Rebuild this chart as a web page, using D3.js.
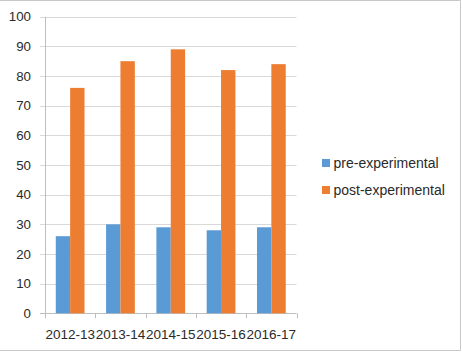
<!DOCTYPE html>
<html><head><meta charset="utf-8">
<script src="https://cdn.jsdelivr.net/npm/d3@7"></script>
<style>html,body{margin:0;padding:0;background:#fff;}svg{display:block;}</style>
</head><body>
<svg id="chart" width="462" height="363"></svg>
<script>
const categories = ["2012-13","2013-14","2014-15","2015-16","2016-17"];
const seriesNames = ["pre-experimental","post-experimental"];
const preValues = [26,30,29,28,29];
const postValues = [76,85,89,82,84];
const yTicks = [0,10,20,30,40,50,60,70,80,90,100];
const colors = ["#5B9BD5","#ED7D31"];

const svg = d3.select("#chart");
const font = "'Liberation Sans', Arial, sans-serif";
const textCol = "#2a2a2a";
// outer border (top, right, bottom)
svg.append("path").attr("d","M0,0.5H460.5V350.5H0")
  .attr("fill","none").attr("stroke","#c8c8c8").attr("stroke-width",1);

const pLeft=45, pRight=296.5, pTop=16.7, pBottom=313.3;
const x = d3.scaleBand().domain(categories).range([pLeft,pRight]).paddingInner(0).paddingOuter(0);
const y = d3.scaleLinear().domain([0,100]).range([pBottom,pTop]);

// gridlines
svg.append("g").selectAll("line").data(yTicks).join("line")
  .attr("x1",pLeft-5).attr("x2",pRight)
  .attr("y1",d=>Math.round(y(d))+0.5).attr("y2",d=>Math.round(y(d))+0.5)
  .attr("stroke",d=>d===0?"#bfbfbf":"#d9d9d9").attr("stroke-width",1);

// y axis line
svg.append("line").attr("x1",pLeft+0.5).attr("x2",pLeft+0.5).attr("y1",pTop).attr("y2",pBottom+0.5)
  .attr("stroke","#bfbfbf");

// y labels
svg.append("g").selectAll("text").data(yTicks).join("text")
  .attr("x",pLeft-14).attr("y",d=>y(d)).attr("dy","0.35em").attr("text-anchor","end")
  .attr("font-family",font).attr("font-size","13.3px").attr("fill",textCol).text(d=>d);

// x ticks
const edges = categories.map(c=>x(c)).concat([pRight]);
svg.append("g").selectAll("line").data(edges).join("line")
  .attr("x1",d=>Math.round(d)+0.5).attr("x2",d=>Math.round(d)+0.5)
  .attr("y1",pBottom).attr("y2",pBottom+5).attr("stroke","#bfbfbf");

// bars
const bw = x.bandwidth();
const barW = bw/3.5;
const inner = d3.scaleBand().domain(seriesNames).range([bw*0.75/3.5, bw*0.75/3.5 + 2*barW]);
const data = [];
categories.forEach((c,i)=>{
  data.push({c, s:seriesNames[0], v:preValues[i], col:colors[0]});
  data.push({c, s:seriesNames[1], v:postValues[i], col:colors[1]});
});
svg.append("g").selectAll("rect").data(data).join("rect")
  .attr("x",d=>x(d.c)+inner(d.s)).attr("width",inner.bandwidth())
  .attr("y",d=>y(d.v)).attr("height",d=>y(0)-y(d.v)).attr("fill",d=>d.col);

// x labels
svg.append("g").selectAll("text").data(categories).join("text")
  .attr("x",d=>x(d)+bw/2).attr("y",339).attr("text-anchor","middle")
  .attr("font-family",font).attr("font-size","13.5px").attr("fill",textCol).text(d=>d);

// legend
const lg = svg.append("g").selectAll("g").data(seriesNames).join("g")
  .attr("transform",(d,i)=>`translate(322,${163+i*27})`);
lg.append("rect").attr("x",0).attr("y",-4).attr("width",8).attr("height",8).attr("fill",(d,i)=>colors[i]);
lg.append("text").attr("x",11.5).attr("y",0).attr("dy","0.35em")
  .attr("font-family",font).attr("font-size","14px").attr("fill",textCol).text(d=>d);
</script>
</body></html>
